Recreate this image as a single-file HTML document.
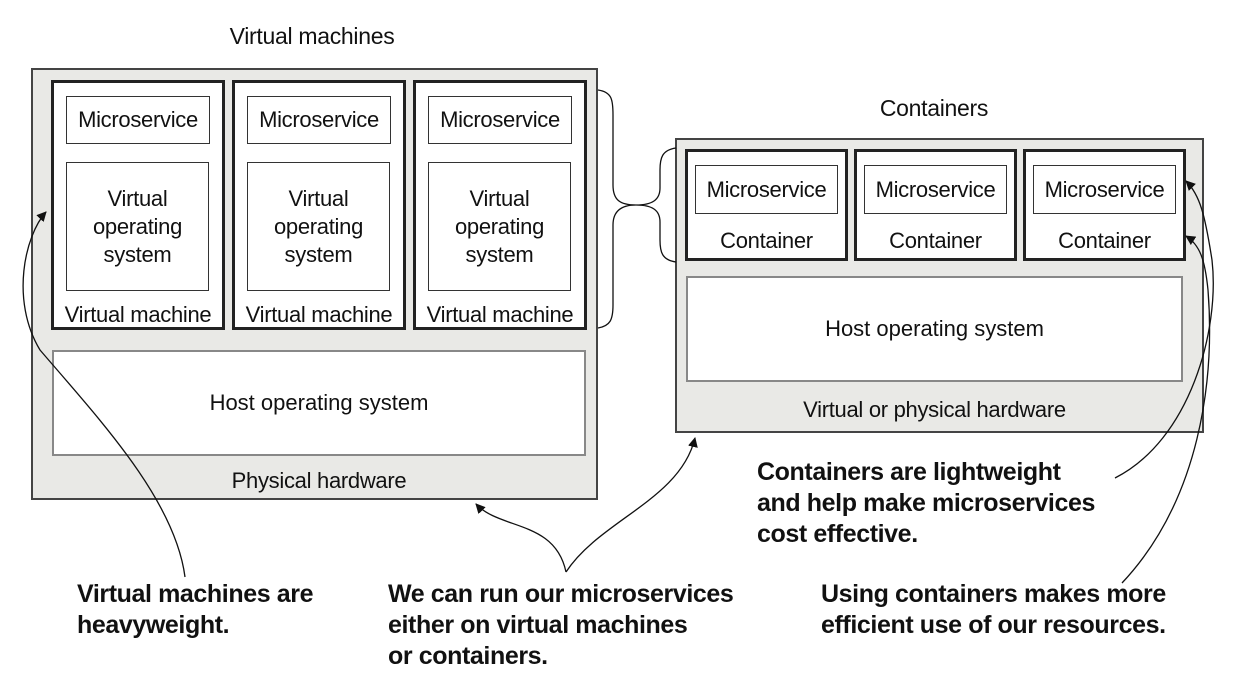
<!DOCTYPE html>
<html><head><style>
body{margin:0;width:1256px;height:686px;background:#fff;position:relative;overflow:hidden;font-family:"Liberation Sans",sans-serif;color:#111}
.a{position:absolute;box-sizing:border-box}
.hw{background:#e9e9e6;border:2px solid #444}
.vm{background:#fff;border:3px solid #222}
.in{background:#fff;border:1.5px solid #333;display:flex;align-items:center;justify-content:center;text-align:center;font-size:22px;line-height:28px;letter-spacing:-0.3px}
.host{background:#fff;border:2px solid #888;display:flex;align-items:center;justify-content:center;font-size:22px}
.t{position:absolute;font-size:22px;white-space:nowrap;text-align:center;letter-spacing:-0.3px}
.b{position:absolute;font-weight:bold;font-size:25px;line-height:31px;white-space:nowrap;letter-spacing:-0.4px}
</style></head><body>
<div class="t" style="left:162px;width:300px;top:23px;font-size:23px">Virtual machines</div>
<div class="a hw" style="left:31px;top:68px;width:567px;height:432px"></div>
<div class="a vm" style="left:51px;top:80px;width:174px;height:250px"></div>
<div class="a vm" style="left:232px;top:80px;width:174px;height:250px"></div>
<div class="a vm" style="left:413px;top:80px;width:174px;height:250px"></div>
<div class="a in" style="left:66px;top:96px;width:144px;height:48px">Microservice</div>
<div class="a in" style="left:247px;top:96px;width:144px;height:48px">Microservice</div>
<div class="a in" style="left:428px;top:96px;width:144px;height:48px">Microservice</div>
<div class="a in" style="left:66px;top:162px;width:143px;height:129px">Virtual<br>operating<br>system</div>
<div class="a in" style="left:247px;top:162px;width:143px;height:129px">Virtual<br>operating<br>system</div>
<div class="a in" style="left:428px;top:162px;width:143px;height:129px">Virtual<br>operating<br>system</div>
<div class="t" style="left:51px;width:174px;top:302px">Virtual machine</div>
<div class="t" style="left:232px;width:174px;top:302px">Virtual machine</div>
<div class="t" style="left:413px;width:174px;top:302px">Virtual machine</div>
<div class="a host" style="left:52px;top:350px;width:534px;height:106px">Host operating system</div>
<div class="t" style="left:52px;width:534px;top:468px">Physical hardware</div>

<div class="t" style="left:784px;width:300px;top:95px;font-size:23px">Containers</div>
<div class="a hw" style="left:675px;top:138px;width:529px;height:295px"></div>
<div class="a vm" style="left:685px;top:149px;width:163px;height:112px"></div>
<div class="a vm" style="left:854px;top:149px;width:163px;height:112px"></div>
<div class="a vm" style="left:1023px;top:149px;width:163px;height:112px"></div>
<div class="a in" style="left:695px;top:165px;width:143px;height:49px">Microservice</div>
<div class="a in" style="left:864px;top:165px;width:143px;height:49px">Microservice</div>
<div class="a in" style="left:1033px;top:165px;width:143px;height:49px">Microservice</div>
<div class="t" style="left:685px;width:163px;top:228px">Container</div>
<div class="t" style="left:854px;width:163px;top:228px">Container</div>
<div class="t" style="left:1023px;width:163px;top:228px">Container</div>
<div class="a host" style="left:686px;top:276px;width:497px;height:106px">Host operating system</div>
<div class="t" style="left:686px;width:497px;top:397px">Virtual or physical hardware</div>

<div class="b" style="left:77px;top:579px">Virtual machines are<br>heavyweight.</div>
<div class="b" style="left:388px;top:579px">We can run our microservices<br>either on virtual machines<br>or containers.</div>
<div class="b" style="left:757px;top:457px">Containers are lightweight<br>and help make microservices<br>cost effective.</div>
<div class="b" style="left:821px;top:579px">Using containers makes more<br>efficient use of our resources.</div>

<svg class="a" style="left:0;top:0" width="1256" height="686">
<defs><marker id="m" markerWidth="10" markerHeight="10" refX="9" refY="5" orient="auto" markerUnits="userSpaceOnUse"><path d="M0,0L10,5L0,10z" fill="#111"/></marker></defs>
<g fill="none" stroke="#111" stroke-width="1.3">
<path d="M598,90 C612,92 613,100 613,115 L613,185 C613,200 620,205 636,205 C620,205 613,212 613,225 L613,305 C613,320 610,326 598,328"/>
<path d="M676,148 C662,150 660,158 660,170 L660,188 C660,200 652,205 636,205 C652,205 660,210 660,222 L660,240 C660,252 662,260 676,262"/>
<path d="M185,577 C175,500 100,420 40,350 C10,300 25,235 46,212" marker-end="url(#m)"/>
<path d="M566,572 C555,520 500,530 476,504" marker-end="url(#m)"/>
<path d="M566,572 C600,520 680,500 695,438" marker-end="url(#m)"/>
<path d="M1115,478 C1190,440 1220,330 1212,260 C1205,215 1200,195 1186,181" marker-end="url(#m)"/>
<path d="M1122,583 C1200,500 1215,380 1208,290 C1205,260 1200,245 1186,236" marker-end="url(#m)"/>
</g></svg>
</body></html>
